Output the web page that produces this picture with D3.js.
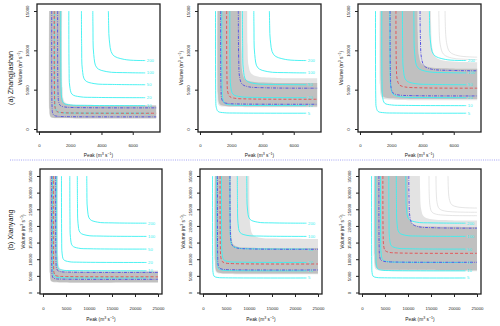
<!DOCTYPE html>
<html>
<head>
<meta charset="utf-8">
<script src="https://cdn.jsdelivr.net/npm/d3@7"></script>
<style>
  body { margin: 0; background: #fff; }
  text { font-family: "Liberation Sans", Arial, Helvetica, sans-serif; }
</style>
</head>
<body>
<svg id="chart" width="500" height="326"></svg>
<script>
// return periods of the cyan contours (years)
const periods = [5, 10, 20, 50, 100, 200]

// tick labels
const peakTicksA = [0, 2000, 4000, 6000]
const volTicksA = [0, 5000, 10000, 15000]
const peakTicksB = [0, 5000, 10000, 15000, 20000, 25000]
const volTicksB = [0, 5000, 10000, 15000, 20000, 25000, 30000, 35000]

const stationNames = ['(a) Zhangjiashan', '(b) Xianyang']

// cyan contours, [peak, volume] points, one curve per return period
const cyanA = [
  [[993, 15000], [1010, 3917], [1041, 2767], [1160, 2230], [1551, 2070], [2350, 2029], [6800, 2007]],
  [[1395, 15000], [1413, 5627], [1447, 4027], [1580, 3280], [2017, 3057], [2910, 3000], [6800, 2971]],
  [[1909, 15000], [1926, 7710], [1966, 5460], [2120, 4410], [2626, 4096], [3660, 4016], [6800, 3980]],
  [[2716, 15000], [2730, 10590], [2775, 7590], [2950, 6190], [3525, 5772], [4700, 5665], [6800, 5627]],
  [[3445, 15000], [3454, 13070], [3504, 9470], [3700, 7790], [4344, 7288], [5660, 7160], [6800, 7130]],
  [[4442, 15000], [4464, 12840], [4496, 11423], [4720, 9440], [5456, 8848], [6800, 8703]]
]
const cyanB = [
  [[2086, 35000], [2122, 8517], [2185, 6017], [2430, 4850], [3235, 4502], [4880, 4412], [22500, 4359]],
  [[2990, 35000], [3030, 11917], [3106, 8667], [3400, 7150], [4366, 6697], [6340, 6581], [22500, 6514]],
  [[4016, 35000], [4060, 16083], [4150, 11833], [4500, 9850], [5650, 9258], [8000, 9106], [22500, 9023]],
  [[5828, 35000], [5870, 21750], [5974, 16500], [6380, 14050], [7714, 13318], [10440, 13131], [22500, 13036]],
  [[7463, 35000], [7498, 26800], [7615, 20800], [8070, 18000], [9565, 17164], [12620, 16950], [22500, 16852]],
  [[9516, 35000], [9536, 31583], [9666, 25083], [10170, 22050], [11826, 21144], [15210, 20912], [22500, 20822]]
]

// gray uncertainty band, one entry per column: light fringe and dense core envelopes
const fringeLoA = [
  [[641, 15000], [655, 2450], [682, 1750], [745, 1500], [905, 1400], [1390, 1355], [7500, 1333]],
  [[1083, 15000], [1103, 4350], [1140, 3350], [1230, 2990], [1455, 2846], [2130, 2784], [7500, 2756]],
  [[1254, 15000], [1276, 5650], [1318, 4400], [1420, 3950], [1675, 3770], [2440, 3693], [7500, 3658]]
]
const fringeHiA = [
  [[1485, 15000], [1510, 5230], [1560, 3855], [1680, 3360], [1980, 3162], [2880, 3077], [7500, 3041]],
  [[3021, 15000], [3042, 10733], [3112, 8025], [3280, 7050], [3700, 6660], [4960, 6493], [7500, 6440]],
  [[4538, 15000], [4550, 13400], [4632, 10275], [4830, 9150], [5325, 8700], [6150, 8550], [7500, 8483]]
]
const coreLoA = [
  [[661, 15000], [677, 2503], [704, 1795], [770, 1540], [935, 1438], [1430, 1394], [7500, 1373]],
  [[1133, 15000], [1154, 4583], [1194, 3500], [1290, 3110], [1530, 2954], [2250, 2887], [7500, 2857]],
  [[1305, 15000], [1327, 6000], [1372, 4625], [1480, 4130], [1750, 3932], [2560, 3847], [7500, 3810]]
]
const coreHiA = [
  [[1425, 15000], [1450, 5150], [1500, 3775], [1620, 3280], [1920, 3082], [2820, 2997], [7500, 2961]],
  [[2617, 15000], [2639, 9800], [2704, 7300], [2860, 6400], [3250, 6040], [4420, 5886], [7500, 5832]],
  [[3678, 15000], [3695, 12267], [3770, 9350], [3950, 8300], [4400, 7880], [5750, 7700], [7500, 7655]]
]
const fringeLoB = [
  [[1454, 35000], [1495, 5617], [1570, 3950], [1750, 3350], [2200, 3110], [3550, 3007], [25000, 2955]],
  [[2507, 35000], [2556, 9367], [2648, 6950], [2870, 6080], [3425, 5732], [5090, 5583], [25000, 5510]],
  [[2559, 35000], [2607, 10733], [2702, 8025], [2930, 7050], [3500, 6660], [5210, 6493], [25000, 6411]]
]
const fringeHiB = [
  [[3259, 35000], [3313, 10933], [3418, 8225], [3670, 7250], [4300, 6860], [6190, 6693], [25000, 6612]],
  [[10059, 35000], [10120, 25333], [10320, 19500], [10800, 17400], [12000, 16560], [15600, 16200], [25000, 16075]],
  [[12593, 35000], [12635, 30833], [12860, 25000], [13400, 22900], [14750, 22060], [18800, 21700], [25000, 21601]]
]
const coreLoB = [
  [[1504, 35000], [1545, 5717], [1620, 4050], [1800, 3450], [2250, 3210], [3600, 3107], [25000, 3055]],
  [[2608, 35000], [2657, 9700], [2752, 7200], [2980, 6300], [3550, 5940], [5260, 5786], [25000, 5710]],
  [[2710, 35000], [2760, 11367], [2860, 8450], [3100, 7400], [3700, 6980], [5500, 6800], [25000, 6713]]
]
const coreHiB = [
  [[3059, 35000], [3113, 10533], [3218, 7825], [3470, 6850], [4100, 6460], [5990, 6293], [25000, 6212]],
  [[6030, 35000], [6090, 20633], [6240, 16050], [6600, 14400], [7500, 13740], [10200, 13457], [25000, 13335]],
  [[9973, 35000], [10020, 28933], [10220, 23100], [10700, 21000], [11900, 20160], [15500, 19800], [25000, 19674]]
]
// a few stray bootstrap curves outside the band
const strayA = [
  [],
  [],
  [
    [[5044, 15000], [5053, 14033], [5140, 10700], [5350, 9500], [5875, 9020], [6500, 8887], [7500, 8812]],
    [[5447, 15000], [5540, 11000], [5750, 9800], [6275, 9320], [7500, 9133]]
  ]
]
const strayB = [
  [],
  [],
  [
    [[14570, 35000], [14780, 26000], [15200, 24200], [16250, 23480], [25000, 23080]],
    [[16087, 35000], [16320, 27000], [16800, 25200], [18000, 24480], [25000, 24107]],
    [[18708, 35000], [18960, 28200], [19500, 26400], [20850, 25680], [25000, 25369]]
  ]
]

// lower bound, median and upper bound curves
const lowerA = [
  [[815, 15000], [834, 2940], [869, 2065], [953, 1750], [1163, 1624], [1793, 1570], [7500, 1544]],
  [[1324, 15000], [1346, 5007], [1388, 3840], [1490, 3420], [1745, 3252], [2510, 3180], [7500, 3148]],
  [[1927, 15000], [1950, 6723], [2000, 5140], [2120, 4570], [2420, 4342], [3320, 4244], [7500, 4204]]
]
const medianA = [
  [[978, 15000], [1000, 3600], [1041, 2600], [1140, 2240], [1388, 2096], [2130, 2034], [7500, 2006]],
  [[1706, 15000], [1730, 6170], [1780, 4670], [1900, 4130], [2200, 3914], [3100, 3821], [7500, 3782]],
  [[2301, 15000], [2325, 8170], [2382, 6295], [2520, 5620], [2865, 5350], [3900, 5234], [7500, 5190]]
]
const upperA = [
  [[1194, 15000], [1218, 4613], [1264, 3405], [1375, 2970], [1653, 2796], [2485, 2721], [7500, 2689]],
  [[2454, 15000], [2478, 8827], [2540, 6535], [2690, 5710], [3065, 5380], [4190, 5239], [7500, 5187]],
  [[3845, 15000], [3865, 11683], [3940, 8975], [4120, 8000], [4570, 7610], [5920, 7443], [7500, 7403]]
]
const lowerB = [
  [[1875, 35000], [1920, 6950], [2002, 5075], [2200, 4400], [2695, 4130], [4180, 4014], [25000, 3956]],
  [[3139, 35000], [3190, 11093], [3290, 8385], [3530, 7410], [4130, 7020], [5930, 6853], [25000, 6772]],
  [[3672, 35000], [3723, 14070], [3828, 10945], [4080, 9820], [4710, 9370], [6600, 9177], [25000, 9085]]
]
const medianB = [
  [[2246, 35000], [2294, 8187], [2384, 6020], [2600, 5240], [3140, 4928], [4760, 4794], [25000, 4728]],
  [[3714, 35000], [3768, 13883], [3880, 10550], [4150, 9350], [4825, 8870], [6850, 8664], [25000, 8567]],
  [[4539, 35000], [4592, 17750], [4712, 14000], [5000, 12650], [5720, 12110], [7880, 11879], [25000, 11771]]
]
const upperB = [
  [[2759, 35000], [2810, 10163], [2910, 7580], [3150, 6650], [3750, 6278], [5550, 6119], [25000, 6041]],
  [[5860, 35000], [5920, 20283], [6070, 15700], [6430, 14050], [7330, 13390], [10030, 13107], [25000, 12984]],
  [[10171, 35000], [10220, 28583], [10420, 22750], [10900, 20650], [12100, 19810], [15700, 19450], [25000, 19325]]
]

// panel layout for each row (pixels)
const rows = [
  {
    boxTop: 4, boxBottom: 132, lefts: [37, 198, 358], width: 123,
    xDom: [-128, 7746], yDom: [-381, 15890], tickPad: 9, titleY: 24.5, nameY: 78,
    xTicks: peakTicksA, yTicks: volTicksA, cyan: cyanA,
    fringeLo: fringeLoA, fringeHi: fringeHiA, coreLo: coreLoA, coreHi: coreHiA, stray: strayA,
    lower: lowerA, median: medianA, upper: upperA
  },
  {
    boxTop: 169, boxBottom: 294, lefts: [40, 200, 359], width: 122,
    xDom: [-652, 25870], yDom: [-450, 37100], tickPad: 10, titleY: 27, nameY: 230,
    xTicks: peakTicksB, yTicks: volTicksB, cyan: cyanB,
    fringeLo: fringeLoB, fringeHi: fringeHiB, coreLo: coreLoB, coreHi: coreHiB, stray: strayB,
    lower: lowerB, median: medianB, upper: upperB
  }
]

const svg = d3.select('#chart')

function unitLabel (sel, name) {
  sel.append('tspan').text(name + ' (m')
  sel.append('tspan').attr('dy', -1.6).attr('font-size', '75%').text('3')
  sel.append('tspan').attr('dy', 1.6).text(' s')
  sel.append('tspan').attr('dy', -1.6).attr('font-size', '75%').text('\u22121')
  sel.append('tspan').attr('dy', 1.6).text(')')
}

rows.forEach((row, r) => {
  row.lefts.forEach((left, c) => {
    let x = d3.scaleLinear().domain(row.xDom).range([left, left + row.width])
    let y = d3.scaleLinear().domain(row.yDom).range([row.boxBottom, row.boxTop])
    let gen = d3.line()
      .x((d) => x(d[0]))
      .y((d) => y(d[1]))
      .curve(d3.curveCatmullRom.alpha(0.5))
    let band = (lo, hi) => gen(lo) + gen(hi.slice().reverse()).replace(/^M/, 'L') + 'Z'

    let id = 'clip' + r + c
    svg.append('clipPath').attr('id', id)
      .append('rect')
        .attr('x', left).attr('y', row.boxTop)
        .attr('width', row.width).attr('height', row.boxBottom - row.boxTop)

    let plot = svg.append('g').attr('clip-path', 'url(#' + id + ')')

    // bootstrap band
    plot.append('path').attr('d', band(row.fringeLo[c], row.fringeHi[c])).attr('fill', '#e3e3e3')
    plot.append('path').attr('d', band(row.coreLo[c], row.coreHi[c])).attr('fill', '#c0c0c0')
    row.stray[c].forEach((s) => {
      plot.append('path').attr('d', gen(s))
        .attr('fill', 'none').attr('stroke', '#d4d4d4').attr('stroke-width', 0.6)
    })

    // return period contours
    row.cyan.forEach((cv, i) => {
      plot.append('path').attr('d', gen(cv))
        .attr('fill', 'none').attr('stroke', '#3af0f0').attr('stroke-width', 0.9)
      let end = cv[cv.length - 1]
      plot.append('text')
        .attr('x', x(end[0]) + 1.6).attr('y', y(end[1]))
        .attr('dy', '0.35em')
        .attr('font-size', 4.2)
        .attr('fill', '#3af0f0')
        .text(periods[i])
    })

    // median and bounds
    plot.append('path').attr('d', gen(row.median[c]))
      .attr('fill', 'none').attr('stroke', '#e2575a').attr('stroke-width', 1)
      .attr('stroke-dasharray', '3,2')
    ;[row.lower[c], row.upper[c]].forEach((b) => {
      plot.append('path').attr('d', gen(b))
        .attr('fill', 'none').attr('stroke', '#5a56e2').attr('stroke-width', 1)
        .attr('stroke-dasharray', '3,1.2,0.8,1.2')
    })

    // box
    svg.append('rect')
      .attr('x', left).attr('y', row.boxTop)
      .attr('width', row.width).attr('height', row.boxBottom - row.boxTop)
      .attr('fill', 'none').attr('stroke', '#222').attr('stroke-width', 1.3)

    // x axis
    let xa = svg.append('g')
      .attr('transform', 'translate(0,' + row.boxBottom + ')')
      .call(d3.axisBottom(x).tickValues(row.xTicks).tickSize(3).tickPadding(row.tickPad).tickFormat(d3.format('d')))
    xa.select('.domain').remove()
    xa.append('line')
      .attr('x1', x(row.xTicks[0])).attr('x2', x(row.xTicks[row.xTicks.length - 1]))
    xa.selectAll('line').attr('stroke', '#222').attr('stroke-width', 1)
    xa.selectAll('text').attr('font-size', 4.3).attr('fill', '#222')

    // y axis
    let ya = svg.append('g')
      .attr('transform', 'translate(' + left + ',0)')
      .call(d3.axisLeft(y).tickValues(row.yTicks).tickSize(3).tickFormat(d3.format('d')))
    ya.select('.domain').remove()
    ya.selectAll('line').attr('stroke', '#222').attr('stroke-width', 1)
    ya.selectAll('text')
      .attr('font-size', 4.3).attr('fill', '#222')
      .attr('x', 0).attr('y', -8.5).attr('dy', 0)
      .attr('text-anchor', 'middle')
      .attr('transform', 'rotate(-90)')

    // axis titles
    svg.append('text')
      .attr('x', left + row.width / 2).attr('y', row.boxBottom + row.titleY)
      .attr('text-anchor', 'middle').attr('font-size', 4.8).attr('fill', '#222')
      .call(unitLabel, 'Peak')
    svg.append('text')
      .attr('transform', 'translate(' + (left - 15) + ',' + (row.boxTop + row.boxBottom) / 2 + ') rotate(-90)')
      .attr('text-anchor', 'middle').attr('font-size', 4.8).attr('fill', '#222')
      .call(unitLabel, 'Volume')
  })

  // station name
  svg.append('text')
    .attr('transform', 'translate(13,' + row.nameY + ') rotate(-90)')
    .attr('text-anchor', 'middle').attr('font-size', 7.2).attr('fill', '#111')
    .text(stationNames[r])
})

// dotted divider between the two stations
svg.append('line')
  .attr('x1', 10).attr('x2', 500).attr('y1', 160).attr('y2', 160)
  .attr('stroke', '#8c8cf0').attr('stroke-width', 0.8).attr('stroke-dasharray', '1,1.2')
</script>
</body>
</html>
